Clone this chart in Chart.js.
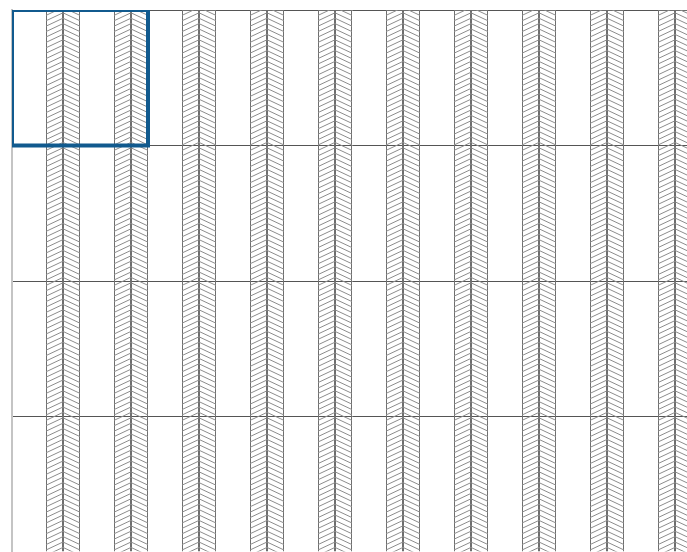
<!DOCTYPE html>
<html>
<head>
<meta charset="utf-8">
<script src="https://cdn.jsdelivr.net/npm/chart.js@4"></script>
<style>
  html, body { margin: 0; padding: 0; background: #fff; overflow: hidden; }
  #wrap { width: 712px; height: 580px; }
</style>
</head>
<body>
<div id="wrap"><canvas id="board" width="712" height="580"></canvas></div>
<script>
// strip centres (x, in grid units) and their vertical span
const stripCenters = [0.375, 0.875, 1.375, 1.875, 2.375, 2.875, 3.375, 3.875, 4.375, 4.875];
const stripSpan = [0, 4];
// highlighted cell outline
const frameX = [0, 1, 1, 0, 0];
const frameY = [4, 4, 3, 3, 4];

const hatch = {
  id: "hatch",
  afterDatasetDraw(chart, args) {
    const dir = args.index === 0 ? 1 : args.index === 1 ? -1 : 0;
    if (!dir) return;
    const ctx = chart.ctx;
    const area = chart.chartArea;
    const step = 5.4;
    const rise = 8;
    ctx.save();
    ctx.strokeStyle = "#8c8c8c";
    ctx.lineWidth = 1;
    args.meta.data.forEach((bar) => {
      const p = bar.getProps(["x", "y", "base", "width"], true);
      const left = p.x - p.width / 2;
      const right = p.x + p.width / 2;
      const top = Math.max(Math.min(p.y, p.base), area.top);
      const bottom = Math.max(p.y, p.base);
      ctx.save();
      ctx.beginPath();
      ctx.rect(left, top, right - left, bottom - top);
      ctx.clip();
      ctx.beginPath();
      for (let yy = top - rise; yy < bottom + rise; yy += step) {
        if (dir === 1) {
          ctx.moveTo(left, yy + rise);
          ctx.lineTo(right, yy);
        } else {
          ctx.moveTo(left, yy);
          ctx.lineTo(right, yy + rise);
        }
      }
      ctx.stroke();
      ctx.restore();
    });
    ctx.restore();
  },
};

const stripData = stripCenters.map((x) => ({ x, y: stripSpan }));
const barStyle = {
  type: "bar",
  data: stripData,
  backgroundColor: "rgba(0,0,0,0)",
  borderColor: "#6e6e6e",
  borderWidth: 1,
  borderSkipped: "start",
  categoryPercentage: 0.5,
  barPercentage: 1,
  order: 2,
};

new Chart(document.getElementById("board"), {
  data: {
    datasets: [
      { ...barStyle, label: "left" },
      { ...barStyle, label: "right" },
      {
        type: "line",
        label: "frame",
        data: frameX.map((x, i) => ({ x, y: frameY[i] })),
        borderColor: "#115a8e",
        borderWidth: 4,
        pointRadius: 0,
        fill: false,
        tension: 0,
        order: 0,
      },
    ],
  },
  options: {
    responsive: false,
    animation: false,
    layout: { padding: { left: 12, top: 10, right: 20, bottom: 28 } },
    plugins: { legend: { display: false }, tooltip: { enabled: false } },
    scales: {
      x: {
        type: "linear",
        offset: false,
        min: 0,
        max: 5,
        grid: { display: false, drawTicks: false, offset: false },
        border: { display: false },
        ticks: { display: false },
      },
      y: {
        min: 0,
        max: 4,
        grid: { color: "#555555", lineWidth: 1, drawTicks: false },
        border: { display: true, color: "#c4c4c4", width: 2 },
        ticks: { display: false, stepSize: 1 },
      },
    },
  },
  plugins: [hatch],
});
</script>
</body>
</html>
